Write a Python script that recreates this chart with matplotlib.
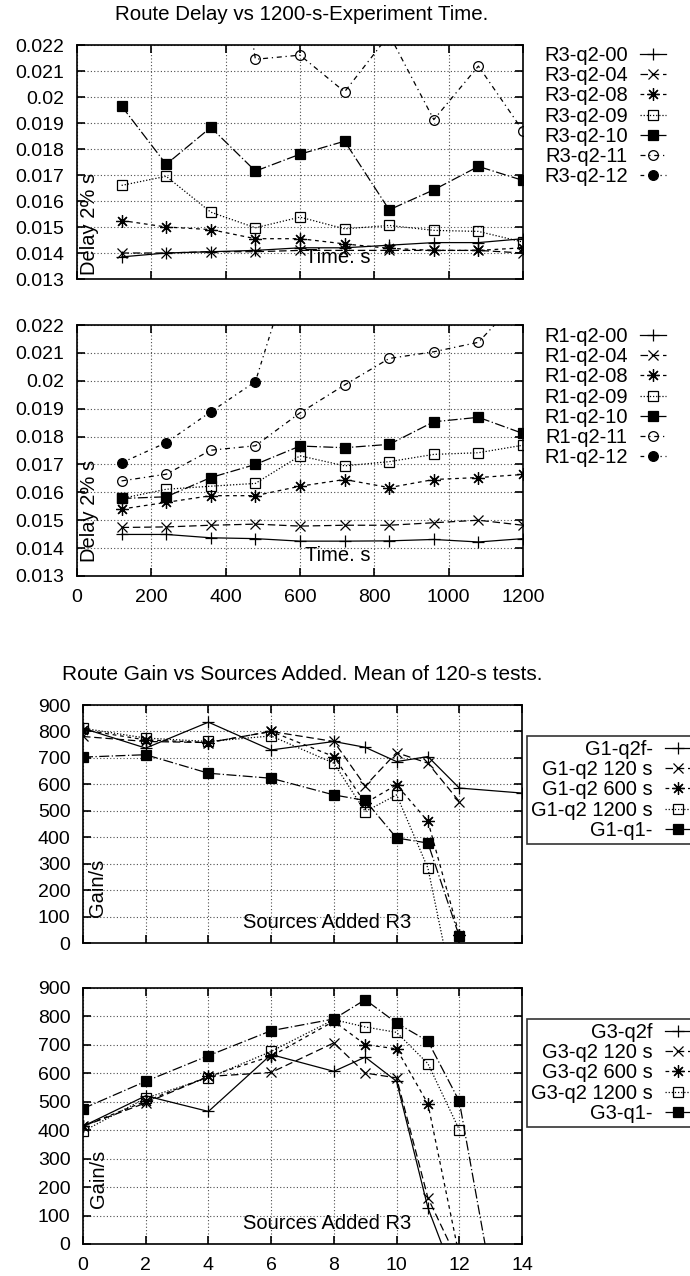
import numpy as np
import matplotlib
matplotlib.use('Agg')
import matplotlib.pyplot as plt
from matplotlib.ticker import FuncFormatter

plt.rcParams['font.family'] = ['Liberation Sans', 'DejaVu Sans']
plt.rcParams['font.size'] = 14.5

nan = np.nan

# ---- delay data (x = experiment time, s) ----
t = [120, 240, 360, 480, 600, 720, 840, 960, 1080, 1200]

r3_labels = ['R3-q2-00', 'R3-q2-04', 'R3-q2-08', 'R3-q2-09', 'R3-q2-10', 'R3-q2-11', 'R3-q2-12']
r3_00 = [0.01385, 0.0140, 0.01405, 0.0141, 0.0142, 0.0142, 0.0143, 0.0144, 0.0144, 0.01455]
r3_04 = [0.0140, 0.0140, 0.01405, 0.01405, 0.0141, 0.0141, 0.0141, 0.0141, 0.0141, 0.0140]
r3_08 = [0.01525, 0.0150, 0.0149, 0.01455, 0.01455, 0.01435, 0.01418, 0.0141, 0.0141, 0.0142]
r3_09 = [0.0166, 0.01695, 0.01557, 0.01497, 0.01538, 0.01493, 0.01506, 0.01487, 0.01483, 0.01442]
r3_10 = [0.01965, 0.01741, 0.01883, 0.01715, 0.0178, 0.0183, 0.01566, 0.01643, 0.01733, 0.01679]
r3_11 = [nan, nan, 0.0325, 0.02145, 0.02161, 0.0202, 0.0224, 0.01913, 0.02119, 0.0187]
r3_12 = [nan, nan, nan, nan, nan, nan, nan, nan, nan, nan]

r1_labels = ['R1-q2-00', 'R1-q2-04', 'R1-q2-08', 'R1-q2-09', 'R1-q2-10', 'R1-q2-11', 'R1-q2-12']
r1_00 = [0.01449, 0.01449, 0.01437, 0.01434, 0.01425, 0.01425, 0.01426, 0.01431, 0.01422, 0.01434]
r1_04 = [0.01474, 0.01476, 0.01482, 0.01486, 0.01479, 0.01482, 0.01482, 0.01491, 0.0150, 0.01482]
r1_08 = [0.0154, 0.01564, 0.01588, 0.01588, 0.01622, 0.01646, 0.01617, 0.01646, 0.01653, 0.01664]
r1_09 = [0.01578, 0.01611, 0.01622, 0.01632, 0.01731, 0.01695, 0.0171, 0.01736, 0.01742, 0.01769]
r1_10 = [0.01578, 0.01584, 0.01653, 0.0170, 0.01766, 0.0176, 0.01772, 0.01853, 0.01869, 0.01811]
r1_11 = [0.01641, 0.01665, 0.01751, 0.01767, 0.01885, 0.01985, 0.0208, 0.02104, 0.02138, 0.0231]
r1_12 = [0.01706, 0.01778, 0.01889, 0.01997, 0.0251, nan, nan, nan, nan, nan]

# ---- gain data (x = sources added) ----
src = [0, 2, 4, 6, 8, 9, 10, 11, 12]
src_long = [0, 2, 4, 6, 8, 9, 10, 11, 12, 14]
src_q1 = [0, 2, 4, 6, 8, 9, 10, 11, 12, 13]

g1_labels = ['G1-q2f-', 'G1-q2 120 s', 'G1-q2 600 s', 'G1-q2 1200 s', 'G1-q1-']
g1_q2f = [812, 737, 835, 730, 762, 740, 686, 705, 586, 567]
g1_q2_120 = [781, 762, 758, 800, 762, 594, 720, 680, 535]
g1_q2_600 = [806, 768, 758, 800, 705, 529, 598, 460, 31]
g1_q2_1200 = [812, 775, 762, 783, 680, 497, 560, 283, -290]
g1_q1 = [703, 712, 642, 623, 560, 539, 397, 378, 25]

g3_labels = ['G3-q2f', 'G3-q2 120 s', 'G3-q2 600 s', 'G3-q2 1200 s', 'G3-q1-']
g3_q2f = [414, 521, 466, 666, 607, 657, 572, 127, -162]
g3_q2_120 = [414, 496, 589, 603, 707, 601, 584, 162, -69]
g3_q2_600 = [414, 502, 589, 660, 783, 701, 686, 493, -43]
g3_q2_1200 = [396, 513, 584, 677, 789, 763, 744, 634, 402]
g3_q1 = [476, 572, 662, 750, 791, 859, 777, 713, 502, -110]

star = (8, 2, 0)
r_styles = [
    dict(ls='-', marker='+', ms=9, mfc='black'),
    dict(ls=(0, (6, 3)), marker='x', ms=7, mfc='black'),
    dict(ls=(0, (3, 3)), marker=star, ms=9, mfc='black'),
    dict(ls=(0, (1, 1.5)), marker='s', ms=7, mfc='none'),
    dict(ls=(0, (8, 2, 1, 2)), marker='s', ms=7, mfc='black'),
    dict(ls=(0, (4, 3, 1, 3)), marker='o', ms=7, mfc='none'),
    dict(ls=(0, (3, 3, 1, 3)), marker='o', ms=7, mfc='black'),
]
g_styles = [r_styles[0], r_styles[1], r_styles[2], r_styles[3], r_styles[4]]

W, H = 690, 1276
fig = plt.figure(figsize=(W / 100, H / 100), dpi=100)


def rect(l, r, top, bot):
    return [l / W, 1 - bot / H, (r - l) / W, (bot - top) / H]


def setup(ax, xlim, ylim, xticks, yticks, xlabels):
    ax.set_xlim(*xlim)
    ax.set_ylim(*ylim)
    ax.set_xticks(xticks)
    ax.set_yticks(yticks)
    ax.grid(True, color='0.3', linestyle=(0, (1, 2)), linewidth=0.8)
    ax.tick_params(direction='in', top=True, right=True, length=6, width=1.2,
                   labelsize=14, labelbottom=xlabels)
    ax.tick_params(axis='y', pad=9)
    ax.tick_params(axis='x', pad=9)
    for s in ax.spines.values():
        s.set_linewidth(1.2)


def draw(ax, xs_list, ys_list, labels, styles):
    hs = []
    for xs, ys, lab, st in zip(xs_list, ys_list, labels, styles):
        h, = ax.plot(xs, ys, color='black', lw=0.9, ls=st['ls'], marker=st['marker'],
                     ms=st['ms'], mfc=st['mfc'], mec='black', mew=0.9, label=lab)
        hs.append(h)
    return hs


def add_legend(ax, hs, x, y, frame):
    leg = ax.legend(handles=hs, loc='upper left', bbox_to_anchor=(x / W, 1 - y / H),
                    bbox_transform=fig.transFigure, markerfirst=False, frameon=frame,
                    fancybox=False, edgecolor='black', handlelength=1.3, handletextpad=0.6,
                    labelspacing=0.06, borderpad=0.2 if frame else 0, borderaxespad=0)
    leg.get_frame().set_linewidth(1.2)
    return leg


fmt = FuncFormatter(lambda v, p: '%g' % round(v, 4))
tt = np.arange(0, 1201, 200)
yy = np.arange(0.013, 0.02201, 0.001)

# panel 1
ax1 = fig.add_axes(rect(77, 523, 45, 279))
setup(ax1, (0, 1200), (0.013, 0.022), tt, yy, False)
ax1.yaxis.set_major_formatter(fmt)
h1 = draw(ax1, [t] * 7, [r3_00, r3_04, r3_08, r3_09, r3_10, r3_11, r3_12], r3_labels, r_styles)
ax1.text(0.028, 0.017, 'Delay 2% s', rotation=90, transform=ax1.transAxes, ha='center', va='bottom')
ax1.text(0.585, 0.094, 'Time. s', transform=ax1.transAxes, ha='center', va='center')
add_legend(ax1, h1, 544, 46, False)

# panel 2
ax2 = fig.add_axes(rect(77, 523, 325, 576))
setup(ax2, (0, 1200), (0.013, 0.022), tt, yy, True)
ax2.yaxis.set_major_formatter(fmt)
h2 = draw(ax2, [t] * 7, [r1_00, r1_04, r1_08, r1_09, r1_10, r1_11, r1_12], r1_labels, r_styles)
ax2.text(0.028, 0.056, 'Delay 2% s', rotation=90, transform=ax2.transAxes, ha='center', va='bottom')
ax2.text(0.585, 0.08, 'Time. s', transform=ax2.transAxes, ha='center', va='center')
add_legend(ax2, h2, 544, 327, False)

fig.text(302 / W, 1 - 14 / H, 'Route Delay vs 1200-s-Experiment Time.', ha='center', va='center',
         fontsize=14.8)

# panel 3
sx = np.arange(0, 15, 2)
gy = np.arange(0, 901, 100)
ax3 = fig.add_axes(rect(83, 522, 705, 943))
setup(ax3, (0, 14), (0, 900), sx, gy, False)
h3 = draw(ax3, [src_long, src, src, src, src], [g1_q2f, g1_q2_120, g1_q2_600, g1_q2_1200, g1_q1],
          g1_labels, g_styles)
ax3.text(0.034, 0.109, 'Gain/s', rotation=90, transform=ax3.transAxes, ha='center', va='bottom')
ax3.text(0.555, 0.088, 'Sources Added R3', transform=ax3.transAxes, ha='center', va='center')
add_legend(ax3, h3, 527, 736, True)

fig.text(302 / W, 1 - 675 / H, 'Route Gain vs Sources Added. Mean of 120-s tests.', ha='center', va='center',
         fontsize=15)

# panel 4
ax4 = fig.add_axes(rect(83, 522, 988, 1244))
setup(ax4, (0, 14), (0, 900), sx, gy, True)
h4 = draw(ax4, [src, src, src, src, src_q1], [g3_q2f, g3_q2_120, g3_q2_600, g3_q2_1200, g3_q1],
          g3_labels, g_styles)
ax4.text(0.035, 0.14, 'Gain/s', rotation=90, transform=ax4.transAxes, ha='center', va='bottom')
ax4.text(0.555, 0.082, 'Sources Added R3', transform=ax4.transAxes, ha='center', va='center')
add_legend(ax4, h4, 527, 1019, True)

fig.savefig('out.png', dpi=100, facecolor='white')
